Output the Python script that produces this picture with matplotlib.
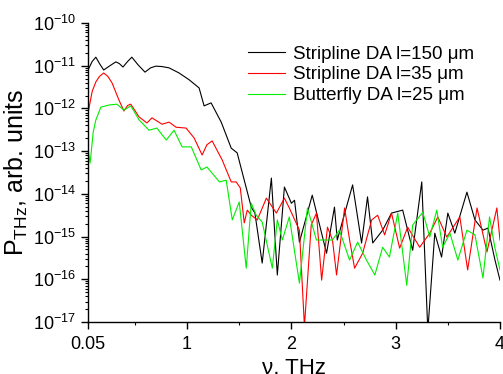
import numpy as np
import matplotlib
matplotlib.use("Agg")
import matplotlib.pyplot as plt
from matplotlib.ticker import FixedLocator, LogLocator, NullFormatter

plt.rcParams['font.family'] = ['Liberation Sans', 'DejaVu Sans']
plt.rcParams['mathtext.fontset'] = 'custom'
plt.rcParams['mathtext.rm'] = 'Liberation Sans'
plt.rcParams['mathtext.it'] = 'Liberation Sans:italic'
plt.rcParams['mathtext.default'] = 'regular'

# Stripline DA l=150 um (x in THz, log10 of power)
black_x = [0.05, 0.09, 0.125, 0.16, 0.20, 0.26, 0.317, 0.35, 0.385, 0.43, 0.47, 0.53, 0.596, 0.65,
           0.70, 0.76, 0.827, 0.923, 1.02, 1.115, 1.163,
           1.23, 1.327, 1.423, 1.48, 1.548, 1.615, 1.65, 1.72, 1.808, 1.865, 1.933, 2.0, 2.03,
           2.077, 2.20, 2.337, 2.413, 2.44, 2.587, 2.673, 2.73, 2.78, 2.875, 2.96, 3.067,
           3.163, 3.25, 3.308, 3.375, 3.44, 3.5, 3.567, 3.683, 3.76, 3.837, 3.885, 3.952, 4.0]
black_e = [-11.10, -10.90, -10.80, -10.95, -11.10, -11.00, -10.91, -10.95, -11.03, -10.90, -10.80,
           -10.98, -11.15, -11.05, -11.01, -11.02, -11.05, -11.17, -11.33,
           -11.52, -11.94, -11.87, -12.32, -12.93, -13.04, -13.68, -14.31, -14.45, -15.62, -13.63,
           -15.90, -13.84, -14.22, -14.15, -15.13, -14.03, -15.39, -14.31, -15.08, -13.79, -15.15,
           -14.07, -15.15, -14.85, -14.45, -14.38, -15.32, -13.72, -17.2, -14.92, -15.48, -14.45,
           -14.92, -13.96, -14.61, -14.85, -14.80, -15.55, -16.02]

# Stripline DA l=35 um
red_x = [0.05, 0.09, 0.125, 0.16, 0.20, 0.24, 0.28, 0.346, 0.394, 0.43, 0.46, 0.54, 0.615, 0.663,
         0.76, 0.827, 0.894,
         0.99, 1.067, 1.144, 1.19, 1.24, 1.337, 1.423, 1.47, 1.51, 1.548, 1.577, 1.615, 1.673, 1.76,
         1.856, 1.933, 1.98, 2.077, 2.125, 2.19, 2.24, 2.29, 2.346, 2.394, 2.433, 2.51, 2.558,
         2.606, 2.683, 2.77, 2.827, 2.894, 2.96, 3.038, 3.115, 3.23, 3.327, 3.404, 3.49, 3.615,
         3.69, 3.78, 3.875, 3.97, 4.0]
red_e = [-12.11, -11.60, -11.38, -11.25, -11.17, -11.25, -11.40, -11.80, -12.06, -11.93, -11.90,
         -12.20, -12.34, -12.22, -12.37,
         -12.32, -12.44, -12.46, -12.69, -13.09, -12.85, -12.76, -13.21, -13.72, -13.72, -13.86, -14.68,
         -14.38, -14.50, -14.61, -14.10, -14.45, -14.10, -14.33, -14.85, -17.1, -14.73, -14.45,
         -16.02, -14.78, -15.08, -15.90, -14.33, -15.08, -15.74, -15.39, -14.61, -14.50, -14.96,
         -14.45, -15.27, -14.78, -15.25, -14.92, -14.54, -15.01, -14.54, -15.78, -14.33, -15.36,
         -14.33, -15.08]

# Butterfly DA l=25 um
green_x = [0.05, 0.07, 0.10, 0.125, 0.173, 0.25, 0.327, 0.394, 0.46, 0.54, 0.635, 0.71, 0.80, 0.875,
           0.952, 1.04, 1.135, 1.19, 1.31, 1.375, 1.433, 1.50, 1.567, 1.615, 1.663, 1.72, 1.817,
           1.865, 1.913, 1.98, 2.077, 2.154, 2.24, 2.32, 2.394, 2.46, 2.558, 2.635, 2.72, 2.8,
           2.875, 2.94, 3.02, 3.106, 3.163, 3.26, 3.327, 3.394, 3.45, 3.52, 3.596, 3.683, 3.76,
           3.837, 3.9, 3.95, 4.0]
green_e = [-12.97, -13.28, -12.55, -12.27, -11.97, -11.92, -11.90, -12.04, -11.94, -12.27, -12.51,
           -12.46, -12.74, -12.51, -12.90, -12.90, -13.44, -13.37, -13.72, -13.68, -14.61, -14.19,
           -15.74, -14.22, -14.50, -14.66, -15.74, -14.61, -15.08, -14.54, -16.09, -14.33, -15.08,
           -15.08, -15.08, -14.85, -15.55, -15.13, -15.55, -15.90, -15.25, -15.48, -14.45, -16.14,
           -14.73, -14.43, -15.01, -14.38, -15.25, -14.92, -15.55, -14.85, -14.96, -15.97, -14.54,
           -15.25, -15.78]

labels = ["Stripline DA l=150 \u03bcm", "Stripline DA l=35 \u03bcm", "Butterfly DA l=25 \u03bcm"]
x_ticks = [0.05, 1, 2, 3, 4]
x_ticklabels = ["0.05", "1", "2", "3", "4"]

fig = plt.figure(figsize=(5.03, 3.74), dpi=100)
ax = fig.add_axes([0.175, 0.139, 0.819, 0.7995])

ax.plot(black_x, 10.0 ** np.array(black_e), color='black', lw=0.8, label=labels[0])
ax.plot(red_x, 10.0 ** np.array(red_e), color='#ff0000', lw=0.8, label=labels[1])
ax.plot(green_x, 10.0 ** np.array(green_e), color='#00ee00', lw=0.8, label=labels[2])

ax.set_yscale('log')
ax.set_xlim(0.05, 4)
ax.set_ylim(1e-17, 1e-10)
ax.set_xticks(x_ticks)
ax.set_xticklabels(x_ticklabels)
ax.xaxis.set_minor_locator(FixedLocator([0.5, 1.5, 2.5, 3.5]))
ax.yaxis.set_major_locator(LogLocator(base=10, numticks=20))
ax.yaxis.set_minor_locator(LogLocator(base=10, subs=np.arange(2, 10), numticks=20))
ax.yaxis.set_minor_formatter(NullFormatter())

for s in ['top', 'right']:
    ax.spines[s].set_visible(False)
for s in ['left', 'bottom']:
    ax.spines[s].set_linewidth(1.0)
ax.tick_params(axis='both', which='major', direction='out', length=5, width=1.0, labelsize=13)
ax.tick_params(axis='both', which='minor', direction='out', length=2.5, width=0.8)
ax.tick_params(axis='x', pad=5)

ax.set_ylabel("P$_{THz}$, arb. units", fontsize=18, labelpad=2)
ax.set_xlabel("\u03bd, THz", fontsize=16, labelpad=4)

leg = ax.legend(loc='upper left', bbox_to_anchor=(0.37, 0.95), frameon=False, fontsize=13.5,
                handlelength=2.0, handletextpad=0.4, labelspacing=0.2, borderaxespad=0)

fig.savefig("out.png", dpi=100)
